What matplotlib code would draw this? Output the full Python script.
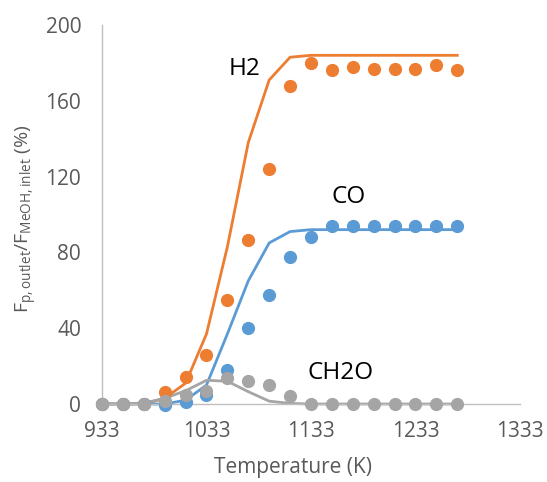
import matplotlib.pyplot as plt

# temperature points (K)
temps = [933, 953, 973, 993, 1013, 1033, 1053, 1073, 1093,
         1113, 1133, 1153, 1173, 1193, 1213, 1233, 1253, 1273]

# experimental points
h2_exp = [0, 0, 0, 6.5, 14, 26, 55, 86.5, 124, 168, 180,
          176.5, 178, 177, 177, 177, 179, 176]
co_exp = [0, 0, 0, -0.5, 1, 4.5, 18, 40, 57.5, 77.5, 88,
          94, 94, 94, 94, 94, 94, 94]
ch2o_exp = [0, 0, 0, 1.5, 4.5, 7, 13.5, 12, 10, 4, 0,
            0, 0, 0, 0, 0, 0, 0]

# model lines
h2_model = [0, 0, 0, 3, 11, 37, 83, 138, 171, 183, 184,
            184, 184, 184, 184, 184, 184, 184]
co_model = [0, 0, 0, 0, 2, 10, 37, 65, 85, 91, 92,
            92, 92, 92, 92, 92, 92, 92]
ch2o_model = [0, 0, 0.5, 3, 7, 12.5, 12, 6.5, 1.5, 0.3, 0,
              0, 0, 0, 0, 0, 0, 0]

orange = "#ED7D31"
blue = "#5B9BD5"
grey = "#A5A5A5"

plt.rcParams["font.family"] = ["Open Sans", "DejaVu Sans"]
plt.rcParams["mathtext.fontset"] = "custom"
plt.rcParams["mathtext.rm"] = "Open Sans"
plt.rcParams["mathtext.it"] = "Open Sans:italic"
plt.rcParams["mathtext.bf"] = "Open Sans:bold"

fig = plt.figure(figsize=(5.47, 4.82), dpi=100)
ax = fig.add_axes([102 / 547, 1 - 404 / 482, (520 - 102) / 547, (404 - 25) / 482])

ax.plot(temps, h2_model, color=orange, lw=2, zorder=2)
ax.plot(temps, co_model, color=blue, lw=2, zorder=2)
ax.plot(temps, ch2o_model, color=grey, lw=2, zorder=2)

ax.plot(temps, h2_exp, "o", color=orange, ms=8.5, zorder=3)
ax.plot(temps, co_exp, "o", color=blue, ms=8.5, zorder=3)
ax.plot(temps, ch2o_exp, "o", color=grey, ms=8.5, zorder=4)

ax.text(1069, 177, "H2", fontsize=17.5, ha="center", va="center")
ax.text(1169, 109, "CO", fontsize=17.5, ha="center", va="center")
ax.text(1161, 16.5, "CH2O", fontsize=17.5, ha="center", va="center")

ax.set_xlim(933, 1333)
ax.set_ylim(0, 200)
ax.set_xticks([933, 1033, 1133, 1233, 1333])
ax.set_yticks([0, 40, 80, 120, 160, 200])

for side in ["top", "right"]:
    ax.spines[side].set_visible(False)
for side in ["left", "bottom"]:
    ax.spines[side].set_color("#BFBFBF")
    ax.spines[side].set_linewidth(1)

ax.tick_params(length=0, labelsize=15, colors="#595959")
ax.tick_params(axis="y", pad=15)
ax.tick_params(axis="x", pad=12)
for ln in ax.lines:
    ln.set_clip_on(False)

ax.set_xlabel("Temperature (K)", fontsize=15, color="#595959", va="center")
ax.xaxis.set_label_coords(0.457, -0.167)
ax.set_ylabel(r"$\mathrm{F_{p,outlet}/F_{MeOH,inlet}}$ (%)", fontsize=14,
              color="#595959", va="center")
ax.yaxis.set_label_coords(-0.18, 0.49)

fig.savefig("out.png", dpi=100)
